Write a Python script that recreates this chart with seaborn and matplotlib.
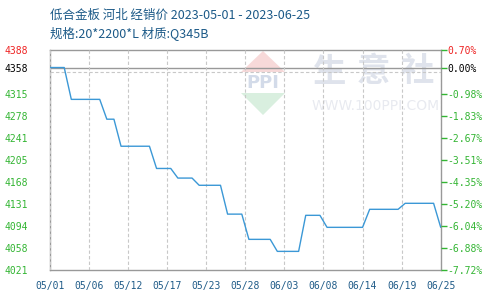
import matplotlib
matplotlib.use("Agg")
import matplotlib.pyplot as plt
import seaborn as sns
import numpy as np
import pandas as pd
from matplotlib.patches import Polygon

# ---- data ----
dates = ["05-01", "05-03", "05-04", "05-08", "05-09", "05-10", "05-11", "05-15",
         "05-16", "05-18", "05-19", "05-21", "05-22", "05-25", "05-26", "05-28",
         "05-29", "06-01", "06-02", "06-05", "06-06", "06-08", "06-09", "06-14",
         "06-15", "06-19", "06-20", "06-24", "06-25"]
prices = [4358, 4358, 4305, 4305, 4272, 4272, 4227, 4227,
          4190, 4190, 4174, 4174, 4162, 4162, 4114, 4114,
          4072, 4072, 4052, 4052, 4112, 4112, 4092, 4092,
          4122, 4122, 4132, 4132, 4092]
x_tick_labels = ["05/01", "05/06", "05/12", "05/17", "05/23", "05/28",
                 "06/03", "06/08", "06/14", "06/19", "06/25"]
y_tick_labels = ["4021", "4058", "4094", "4131", "4168", "4205", "4241",
                 "4278", "4315", "4358", "4388"]
pct_tick_labels = ["-7.72%", "-6.88%", "-6.04%", "-5.20%", "-4.35%", "-3.51%",
                   "-2.67%", "-1.83%", "-0.98%", "0.00%", "0.70%"]
title1 = "低合金板 河北 经销价 2023-05-01 - 2023-06-25"
title2 = "规格:20*2200*L 材质:Q345B"
y_min, y_max, base = 4021, 4388, 4358

sns.set_theme(style="white")
plt.rcParams['font.family'] = ['Noto Sans CJK SC', 'DejaVu Sans']

df = pd.DataFrame({"date": pd.to_datetime(["2023-" + d for d in dates]), "price": prices})
start = pd.Timestamp("2023-05-01")
end = pd.Timestamp("2023-06-25")
df["day"] = (df["date"] - start).dt.days
n_days = (end - start).days

W, H = 490, 300
fig = plt.figure(figsize=(W / 100, H / 100), dpi=100)
L, R, T, B = 50, 440.7, 49.5, 270
ax = fig.add_axes([L / W, 1 - B / H, (R - L) / W, (B - T) / H])

# watermark (pixel -> axes fraction)
def axp(px, py):
    return ((px - L) / (R - L), (B - py) / (B - T))

ax.add_patch(Polygon([axp(263, 51), axp(241, 72), axp(285, 72)], closed=True,
                     transform=ax.transAxes, facecolor="#f7d9d9", edgecolor="none", zorder=0.2))
ax.add_patch(Polygon([axp(241, 93), axp(285, 93), axp(263, 115)], closed=True,
                     transform=ax.transAxes, facecolor="#d9efdf", edgecolor="none", zorder=0.2))
ax.text(*axp(263, 82.5), "PPI", transform=ax.transAxes, ha="center", va="center",
        fontsize=13, color="#d3dbe9", family="DejaVu Sans", fontweight="bold", zorder=0.3)
for ch, cx in zip("生意社", [330, 373, 417]):
    ax.text(*axp(cx, 72), ch, transform=ax.transAxes, ha="center", va="center",
            fontsize=24, color="#dfe3ec", fontweight="bold", zorder=0.3)
ax.text(*axp(376, 106), "WWW.100PPI.COM", transform=ax.transAxes, ha="center",
        va="center", fontsize=10, color="#e8eaf0", family="DejaVu Sans", zorder=0.3)

sns.lineplot(data=df, x="day", y="price", ax=ax, color="#3b98d6", lw=1.0,
             sort=False, zorder=3, estimator=None)

ax.set_xlim(0, n_days)
ax.set_ylim(y_min, y_max)

grid_y = np.linspace(y_min, y_max, 11)
label_y = list(grid_y[:9]) + [base, y_max]
ax.set_yticks(label_y)
ax.set_yticklabels(y_tick_labels)
ax.set_yticks(grid_y, minor=True)
xt = np.linspace(0, n_days, 11)
ax.set_xticks(xt)
ax.set_xticklabels(x_tick_labels)

ax.grid(False)
ax.grid(True, which="minor", axis="y", color="#c8c8c8", linestyle=(0, (3, 2)), lw=0.8)
ax.grid(True, which="major", axis="x", color="#c8c8c8", linestyle=(0, (3, 2)), lw=0.8)
ax.axhline(base, color="#999999", lw=1.0, zorder=2)
ax.set_axisbelow(False)

for s in ax.spines.values():
    s.set_color("#999999")
    s.set_linewidth(1.0)

mono = "DejaVu Sans Mono"
ax.tick_params(axis="y", which="both", length=0, pad=16, labelsize=7)
ax.tick_params(axis="x", which="both", length=0, pad=8, labelsize=7, labelcolor="#1f5b88")
for lab in ax.get_yticklabels():
    lab.set_family(mono)
for lab in ax.get_xticklabels():
    lab.set_family(mono)
ycols = ["#33b533"] * 9 + ["#000000", "#ee2222"]
for lab, c in zip(ax.get_yticklabels(), ycols):
    lab.set_color(c)
ax.set_xlabel("")
ax.set_ylabel("")

ax2 = ax.twinx()
ax2.set_ylim(y_min, y_max)
ax2.set_yticks(label_y)
ax2.set_yticklabels(pct_tick_labels)
ax2.tick_params(axis="y", length=4, width=1, color="#33b533", pad=1, labelsize=7)
for lab, c in zip(ax2.get_yticklabels(), ycols):
    lab.set_color(c)
    lab.set_family(mono)
ax2.grid(False)
for s in ax2.spines.values():
    s.set_visible(False)

fig.text(L / W, 1 - 15 / H, title1, ha="left", va="center", fontsize=9, color="#1c5a88")
fig.text(L / W, 1 - 34 / H, title2, ha="left", va="center", fontsize=9, color="#1c5a88")

fig.savefig("out.png", dpi=100)
